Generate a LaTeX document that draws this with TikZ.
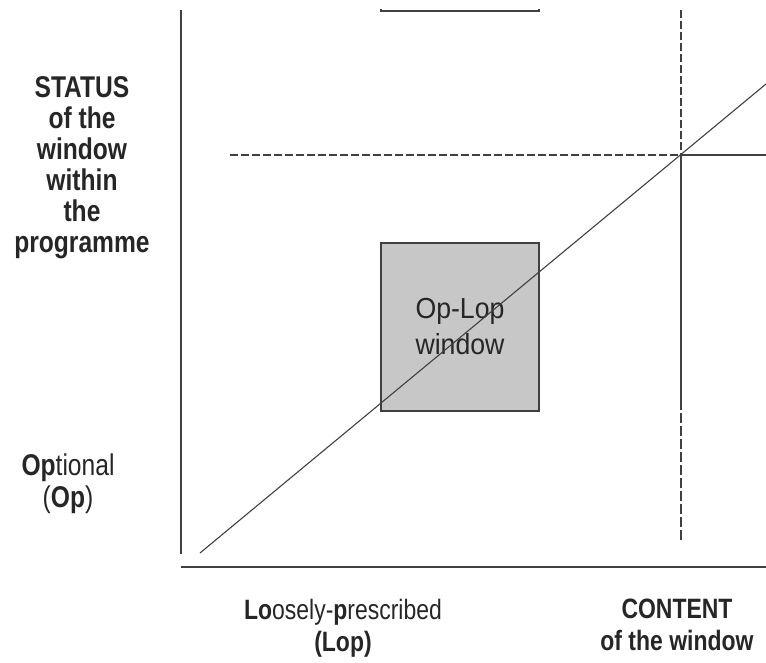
\documentclass[tikz,border=0pt]{standalone}
\usepackage{fontspec}
\setmainfont{Liberation Sans}[FakeStretch=0.82]
\newfontfamily\boxfont{Liberation Sans}[FakeStretch=0.92]
\begin{document}
\begin{tikzpicture}[x=1pt,y=-1pt,
    label/.style={align=center,font=\fontsize{30}{35}\selectfont,text=black!85,inner sep=0pt},
    axis/.style={draw=black!75,line width=1.8pt},
    guide/.style={draw=black!75,line width=1.4pt},
    gap/.style={guide,dash pattern=on 8pt off 3pt}]
  \useasboundingbox (0,0) rectangle (766,663);
  % grey window
  \draw[draw=black!75,line width=1.3pt,fill=black!22] (381,243) rectangle (539,411);
  \node[label,font=\boxfont\fontsize{29}{36}\selectfont] (win) at (460,326.5) {Op-Lop\\window};
  % axes and guide lines
  \coordinate (ytop) at (181,10);
  \coordinate (ybot) at (181,554);
  \coordinate (xl) at (181,567);
  \coordinate (xr) at (766,567);
  \coordinate (hl) at (230,155);
  \coordinate (cross) at (681,155);
  \coordinate (hr) at (766,155);
  \coordinate (vtop) at (681,10);
  \coordinate (vmid) at (681,400);
  \coordinate (vbot) at (681,543);
  \coordinate (dl) at (200,553);
  \coordinate (dr) at (766,84);
  \coordinate (tl) at (381,11);
  \coordinate (tr) at (539,11);
  \begin{scope}[-]
    \draw[axis] (ytop) to (ybot);
    \draw[axis] (xl) to (xr);
    \draw[gap] (hl) to (cross);
    \draw[guide] (cross) to (hr);
    \draw[gap] (vtop) to (cross);
    \draw[guide] (cross) to (vmid);
    \draw[gap,dash pattern=on 10pt off 3pt] (vmid) to (vbot);
    \draw[guide,line width=1.1pt] (dl) to (dr);
    \draw[guide] ([yshift=2pt]tl) -- (tl) -- (tr) -- ([yshift=2pt]tr);
  \end{scope}
  % labels
  \node[label,font=\fontsize{30}{31}\selectfont] (status) at (82,168) {\textbf{STATUS}\\\textbf{of the}\\\textbf{window}\\\textbf{within}\\\textbf{the}\\\textbf{programme}};
  \node[label,font=\fontsize{30}{32}\selectfont] (op) at (68,484) {\textbf{Op}tional\\(\textbf{Op})};
  \node[label,font=\fontsize{28}{32}\selectfont] (lop) at (343,628) {\textbf{Lo}osely-\textbf{p}rescribed\\\textbf{(Lop)}};
  \node[label,font=\fontsize{28}{32}\selectfont] (content) at (677,625) {\textbf{CONTENT}\\\textbf{of the window}};
\end{tikzpicture}
\end{document}
